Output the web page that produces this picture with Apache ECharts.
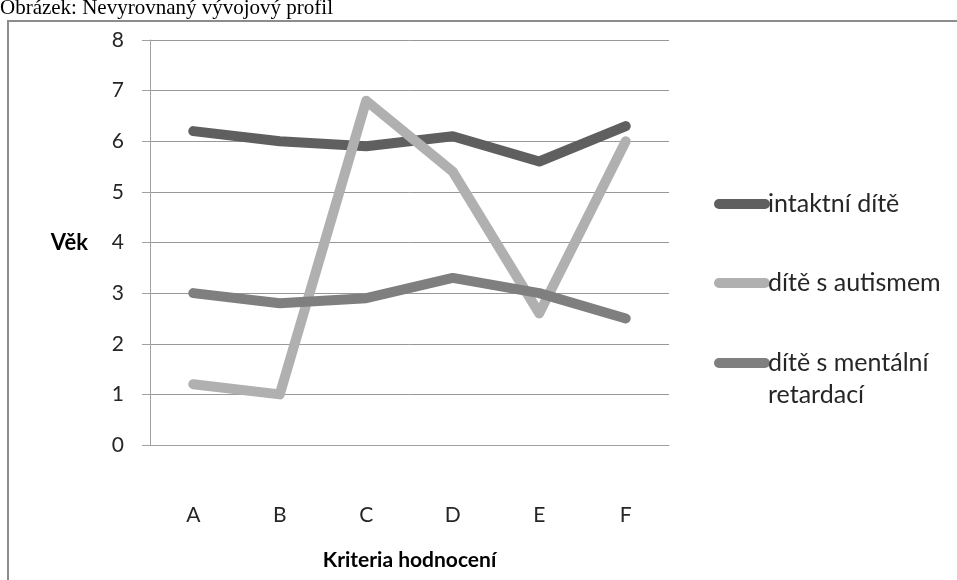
<!DOCTYPE html>
<html>
<head>
<meta charset="utf-8">
<script src="https://cdn.jsdelivr.net/npm/echarts@6/dist/echarts.min.js"></script>
<style>
  html, body { margin: 0; padding: 0; background: #fff; }
  #chart { width: 957px; height: 580px; }
</style>
</head>
<body>
<div id="chart"></div>
<script>
// kriteria hodnoceni
const categories = ['A', 'B', 'C', 'D', 'E', 'F'];
const seriesNames = ['intaktní dítě', 'dítě s autismem', 'dítě s mentální retardací'];
const intaktni = [6.2, 6.0, 5.9, 6.1, 5.6, 6.3];
const autismus = [1.2, 1.0, 6.8, 5.4, 2.6, 6.0];
const mentalni = [3.0, 2.8, 2.9, 3.3, 3.0, 2.5];
const yTicks = [0, 1, 2, 3, 4, 5, 6, 7, 8];

const colors = ['#5f5f5f', '#b0b0b0', '#7f7f7f'];
const font = 'Lato, "Open Sans", sans-serif';
const pill = 'path://M5,0 L51,0 A5,5 0 0 1 51,10 L5,10 A5,5 0 0 1 5,0 Z';

const mkLegend = (name, top, extra) => Object.assign({
  orient: 'vertical',
  left: 709,
  top: top,
  data: [name],
  icon: pill,
  itemWidth: 56,
  itemHeight: 10,
  selectedMode: false,
  textStyle: { fontFamily: font, fontSize: 25, lineHeight: 32, color: '#262626', padding: [0, 0, 0, -7] }
}, extra || {});

const mkLine = (name, data, i) => ({
  name: name,
  type: 'line',
  data: data,
  symbol: 'none',
  z: 2 + i,
  itemStyle: { color: colors[i] },
  lineStyle: { color: colors[i], width: 10, cap: 'round', join: 'round' }
});

let option = {
  animation: false,
  color: colors,
  graphic: [
    {
      type: 'rect',
      shape: { x: 8, y: 21, width: 980, height: 620 },
      style: { fill: 'none', stroke: '#8c8c8c', lineWidth: 2 },
      silent: true
    },
    {
      type: 'text',
      left: 0,
      top: -2,
      style: {
        text: 'Obrázek: Nevyrovnaný vývojový profil',
        font: '21px "Liberation Serif", "Times New Roman", serif',
        fill: '#000'
      }
    }
  ],
  legend: [
    mkLegend(seriesNames[0], 183),
    mkLegend(seriesNames[1], 262),
    // first empty line keeps the icon level with the first text line
    mkLegend(seriesNames[2], 310, {
      formatter: () => ' \ndítě s mentální\nretardací'
    })
  ],
  grid: { left: 150, right: 288, top: 40, bottom: 135 },
  xAxis: {
    type: 'category',
    data: categories,
    name: 'Kriteria hodnocení',
    nameLocation: 'middle',
    nameGap: 105,
    nameTextStyle: { fontFamily: font, fontSize: 21, fontWeight: 'bold', color: '#000' },
    axisLine: { lineStyle: { color: '#a0a0a0', width: 1 } },
    axisTick: { length: 8, lineStyle: { color: '#a0a0a0' } },
    axisLabel: { margin: 60, fontFamily: font, fontSize: 21, color: '#262626' }
  },
  yAxis: {
    type: 'value',
    min: yTicks[0],
    max: yTicks[yTicks.length - 1],
    interval: 1,
    name: 'Věk',
    nameLocation: 'middle',
    nameRotate: 0,
    nameGap: 62,
    nameTextStyle: { fontFamily: font, fontSize: 22, fontWeight: 'bold', color: '#000' },
    axisLine: { show: true, lineStyle: { color: '#a0a0a0', width: 1 } },
    axisTick: { show: true, length: 8, lineStyle: { color: '#a0a0a0' } },
    splitLine: { lineStyle: { color: '#989898', width: 1 } },
    axisLabel: { margin: 26, fontFamily: font, fontSize: 21, color: '#262626' }
  },
  series: [
    mkLine(seriesNames[0], intaktni, 0),
    mkLine(seriesNames[1], autismus, 1),
    mkLine(seriesNames[2], mentalni, 2)
  ]
};

let myChart = echarts.init(document.getElementById('chart'));
myChart.setOption(option);
</script>
</body>
</html>
